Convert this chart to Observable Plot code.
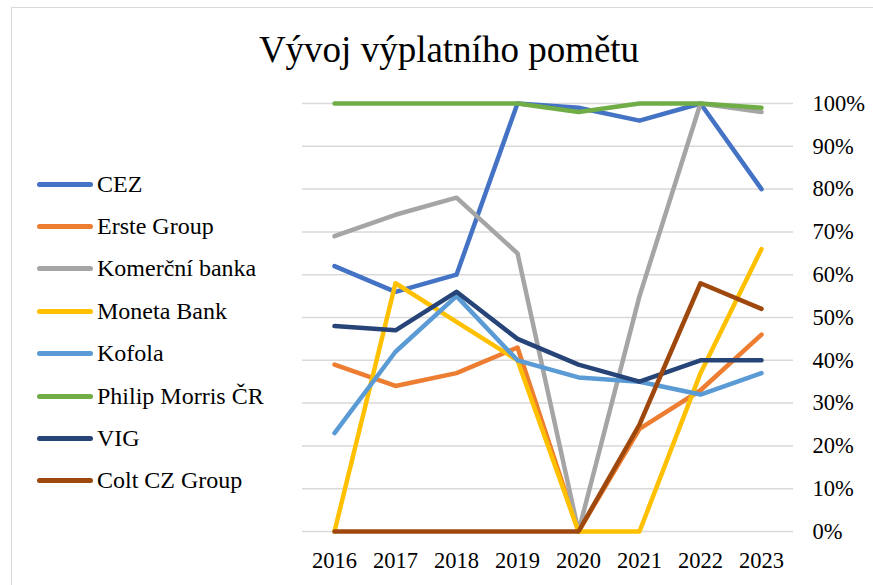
<!DOCTYPE html>
<html>
<head>
<meta charset="utf-8">
<script src="https://cdn.jsdelivr.net/npm/d3@7"></script>
<script src="https://cdn.jsdelivr.net/npm/@observablehq/plot@0.6"></script>
<style>
  html, body { margin: 0; padding: 0; background: #fff; overflow: hidden; width: 873px; height: 585px; }
  #frame { position: absolute; left: 11px; top: 7px; width: 900px; height: 620px; border: 1.5px solid #d9d9d9; box-sizing: border-box; }
  #title { position: absolute; left: 0; width: 898px; top: 29px; text-align: center; font-family: "Liberation Serif", serif; font-size: 37px; line-height: 42px; color: #000; }
  #chart { position: absolute; left: 0; top: 0; }
  #legend { position: absolute; left: 37px; top: 163px; font-family: "Liberation Serif", serif; font-size: 24px; color: #000; }
  .item { display: flex; align-items: center; height: 42.4px; }
  .swatch { width: 56px; height: 5px; border-radius: 3px; margin-right: 4px; }
</style>
</head>
<body>
<div id="frame"></div>
<div id="title">Vývoj výplatního pomětu</div>
<div id="chart"></div>
<div id="legend"></div>
<script>
const years = [2016, 2017, 2018, 2019, 2020, 2021, 2022, 2023];
const seriesNames = ["CEZ", "Erste Group", "Komerční banka", "Moneta Bank", "Kofola", "Philip Morris ČR", "VIG", "Colt CZ Group"];
const colors = ["#4472C4", "#ED7D31", "#A5A5A5", "#FFC000", "#5B9BD5", "#70AD47", "#264478", "#9E480E"];
const cez      = [0.62, 0.56, 0.60, 1.00, 0.99, 0.96, 1.00, 0.80];
const erste    = [0.39, 0.34, 0.37, 0.43, 0.00, 0.24, 0.33, 0.46];
const komercni = [0.69, 0.74, 0.78, 0.65, 0.00, 0.55, 1.00, 0.98];
const moneta   = [0.00, 0.58, 0.49, 0.40, 0.00, 0.00, 0.37, 0.66];
const kofola   = [0.23, 0.42, 0.55, 0.40, 0.36, 0.35, 0.32, 0.37];
const pm       = [1.00, 1.00, 1.00, 1.00, 0.98, 1.00, 1.00, 0.99];
const vig      = [0.48, 0.47, 0.56, 0.45, 0.39, 0.35, 0.40, 0.40];
const colt     = [0.00, 0.00, 0.00, 0.00, 0.00, 0.25, 0.58, 0.52];
const yTicks = [0, 0.1, 0.2, 0.3, 0.4, 0.5, 0.6, 0.7, 0.8, 0.9, 1.0];

const allSeries = [cez, erste, komercni, moneta, kofola, pm, vig, colt];
const data = [];
allSeries.forEach((vals, i) => {
  vals.forEach((v, j) => data.push({series: seriesNames[i], year: String(years[j]), value: v}));
});

const chart = Plot.plot({
  width: 873,
  height: 585,
  marginLeft: 302,
  marginRight: 80,
  marginTop: 103,
  marginBottom: 54,
  style: {fontFamily: "Liberation Serif", fontSize: "22.5px", color: "#000", background: "transparent", overflow: "visible"},
  x: {type: "point", domain: years.map(String), padding: 0.5},
  y: {domain: [0, 1]},
  color: {domain: seriesNames, range: colors},
  marks: [
    Plot.ruleY(yTicks, {stroke: "#d9d9d9", strokeWidth: 1.5}),
    Plot.axisX({tickSize: 0, tickPadding: 21, label: null, fontSize: 22.5}),
    Plot.axisY({anchor: "right", ticks: yTicks, tickSize: 0, tickPadding: 19, textAnchor: "start", tickFormat: d3.format(".0%"), label: null, fontSize: 22.5}),
    ...seriesNames.map(name => Plot.line(data.filter(d => d.series === name), {
      x: "year", y: "value", stroke: "series", strokeWidth: 4.5, strokeLinecap: "round", strokeLinejoin: "round"
    }))
  ]
});
document.getElementById("chart").appendChild(chart);

const legend = document.getElementById("legend");
seriesNames.forEach((name, i) => {
  const item = document.createElement("div");
  item.className = "item";
  const sw = document.createElement("div");
  sw.className = "swatch";
  sw.style.background = colors[i];
  const label = document.createElement("span");
  label.textContent = name;
  item.appendChild(sw);
  item.appendChild(label);
  legend.appendChild(item);
});
</script>
</body>
</html>
